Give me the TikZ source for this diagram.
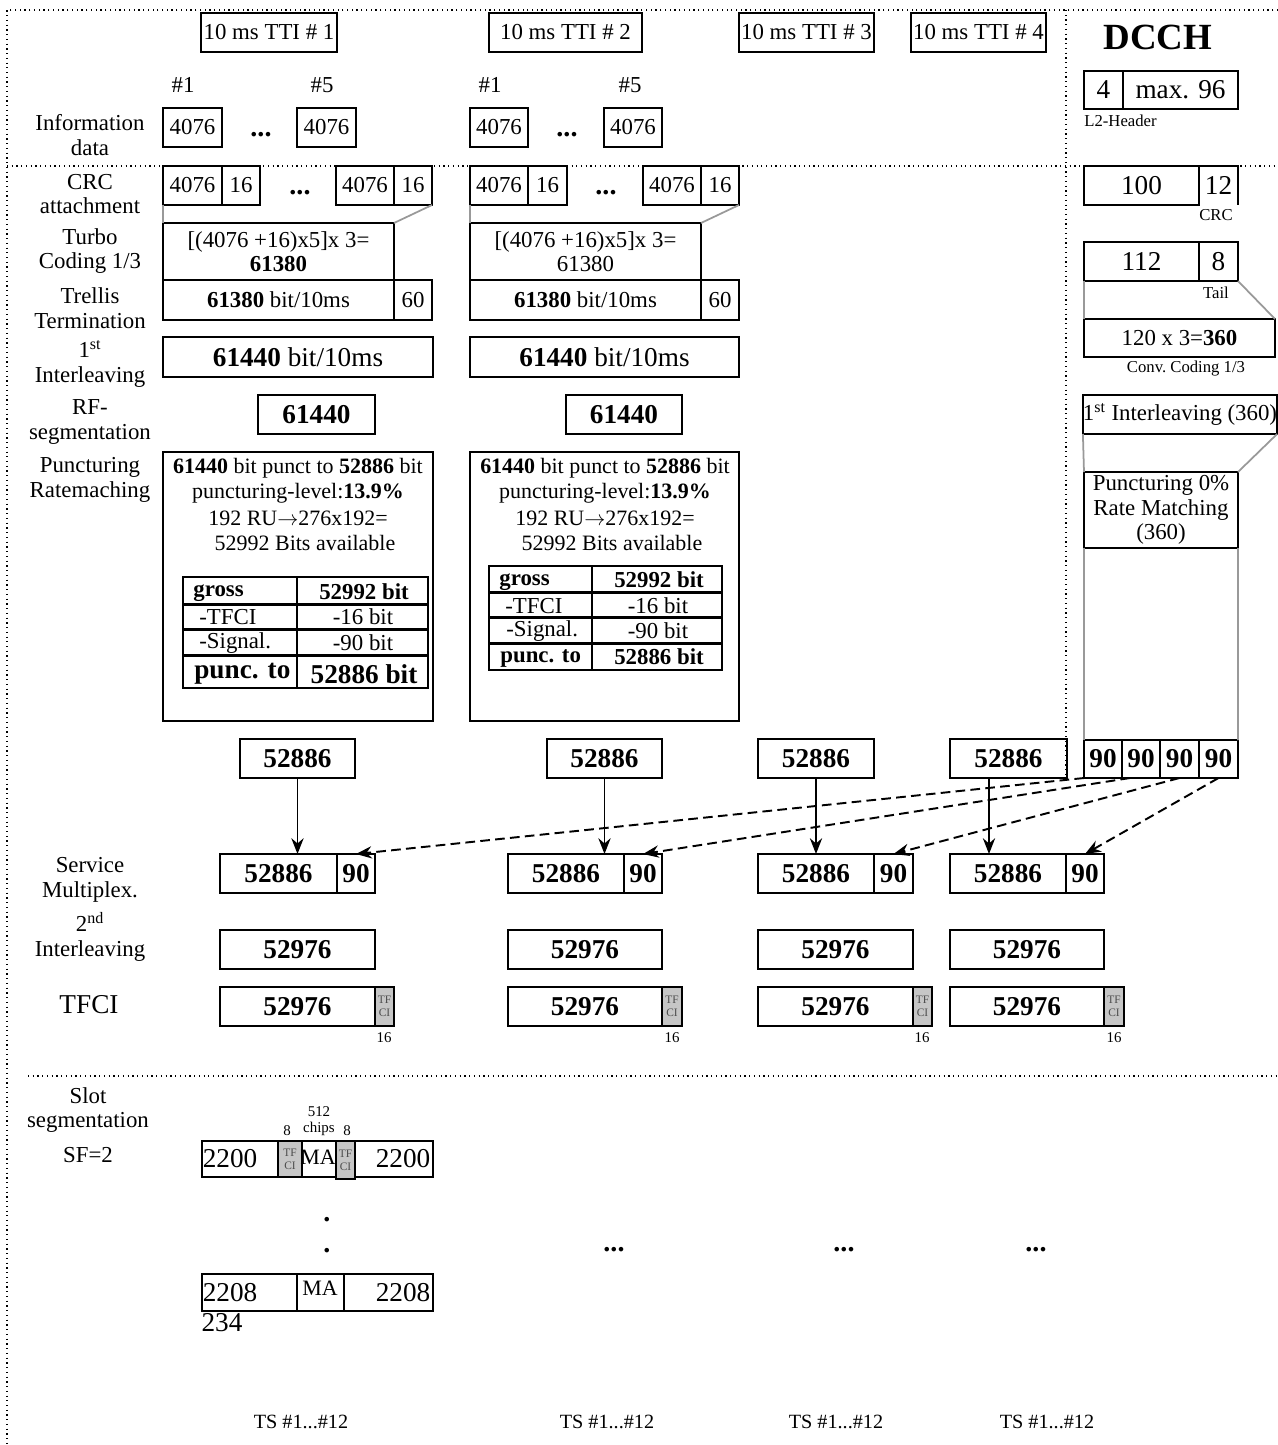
\documentclass[tikz,border=0pt]{standalone}
\usepackage{fontspec}
\setmainfont{Liberation Serif}
\usetikzlibrary{arrows.meta}
\newcommand\bx[7]{\node[#6, minimum width={(#4-#2)*0.02cm}, minimum height={(#5-#3)*0.02cm}] (#1) at ({(#2+#4)/2},{(#3+#5)/2}) {#7};}
\begin{document}
\begin{tikzpicture}[x=0.02cm,y=-0.02cm,
  bx/.style={draw, line width=1.05pt, inner sep=0pt, outer sep=0pt, align=center},
  nobx/.style={inner sep=0pt, outer sep=0pt, align=center},
  tbx/.style={draw, line width=1.6pt, inner sep=0pt, outer sep=0pt, align=center},
  tline/.style={line width=1.7pt},
  vline/.style={line width=1.1pt},
  bline/.style={line width=1.05pt},
  gry/.style={draw=gray!80, line width=1pt},
  gcell/.style={draw, fill=gray!45, line width=1pt, inner sep=0pt, outer sep=0pt, align=center,
     font=\fontsize{6.5}{7.5}\selectfont, text=black!70},
  f13/.style={font=\fontsize{13}{14}\selectfont},
  f125/.style={font=\fontsize{12.5}{14}\selectfont},
  f15/.style={font=\fontsize{15.5}{17}\selectfont},
  fb/.style={font=\fontsize{15.5}{17}\selectfont\bfseries},
  fs/.style={font=\fontsize{9.5}{10.5}\selectfont},
  fxs/.style={font=\fontsize{8.5}{9.5}\selectfont},
  lab/.style={inner sep=0pt, align=center, f13},
  dots/.style={inner sep=0pt, font=\fontsize{16}{17}\selectfont\bfseries},
  sarr/.style={line width=1pt, -{Stealth[length=9pt,width=7pt,inset=3pt]}},
  darr/.style={line width=1.1pt, dash pattern=on 5.5pt off 3pt, -{Stealth[length=9pt,width=7pt,inset=3pt]}}
]
\useasboundingbox (0,0) rectangle (1278,1445);
% frame
\draw[dotted, line width=0.7pt] (1278,10) -- (7,10) -- (7,1445);
\draw[dotted, line width=0.7pt] (7,166) -- (1278,166);
\draw[dotted, line width=0.7pt] (1066,10) -- (1066,775);
\draw[dotted, line width=0.7pt] (28,1076) -- (1278,1076);

% left labels
\node[lab] (lInfo) at (90,135) {Information\\data};
\node[lab] (lCRC) at (90,194) {CRC\\attachment};
\node[lab] (lTurbo) at (90,251) {Turbo\\Coding 1/3};
\node[lab] (lTrel) at (90,308) {Trellis\\Termination};
\node[lab] (lIl) at (90,364) {1\textsuperscript{st}\\Interleaving};
\node[lab] (lRF) at (90,422) {RF-\\segmentation};
\node[lab] (lPunc) at (90,480) {Puncturing\\Ratemaching};
\node[lab] (lSM) at (90,880) {Service\\Multiplex.};
\node[lab] (lIl2) at (90,937) {2\textsuperscript{nd}\\Interleaving};
\node[lab,f15] (lTFCI) at (89,1005) {TFCI};
\node[lab] (lSlot) at (88,1110) {Slot\\segmentation};
\node[lab] (lSF) at (88,1155) {SF=2};

% TTI boxes
\bx{tti1}{201}{13}{337}{52}{bx,f13}{10 ms TTI \# 1}
\bx{tti2}{489}{13}{642}{52}{bx,f13}{10 ms TTI \# 2}
\bx{tti3}{739}{13}{874}{52}{bx,f13}{10 ms TTI \# 3}
\bx{tti4}{911}{13}{1046}{52}{bx,f13}{10 ms TTI \# 4}

% ---------- column 1 ----------
\node[lab] (h11) at (183,85) {\#1};
\node[lab] (h15) at (322,85) {\#5};
\bx{i1a}{163}{108}{222}{147}{bx,f13}{4076}
\node[dots] (i1d) at (261,135) {...};
\bx{i1b}{297}{108}{356}{147}{bx,f13}{4076}

\bx{c1a}{163}{166}{222}{205}{bx,f13}{4076}
\bx{c1b}{222}{166}{260}{205}{bx,f13}{16}
\node[dots] (c1dots) at (300,193) {...};
\bx{c1c}{336}{166}{394}{205}{bx,f13}{4076}
\bx{c1d}{394}{166}{432}{205}{bx,f13}{16}

\bx{tb1}{163}{223}{394}{280}{bx,f13}{[(4076 +16)x5]x 3=\\\textbf{61380}}
\draw[gry] (c1a.south west) -- (tb1.north west);
\draw[gry] (c1d.south east) -- (tb1.north east);
\bx{tr1}{163}{280}{394}{320}{bx,f13}{\textbf{61380} bit/10ms}
\bx{tr1b}{394}{280}{432}{320}{bx,f13}{60}
\bx{il1}{163}{337}{433}{377}{bx,f15}{\textbf{61440} bit/10ms}
\bx{rf1}{258}{395}{375}{434}{tbx,fb}{61440}
\bx{pu1}{163}{452}{433}{721}{bx}{}
\node[lab,f125] (p1l1) at (298,468) {\textbf{61440} bit punct to \textbf{52886} bit};
\node[lab,f125] (p1l2) at (298,493) {puncturing-level:\textbf{13.9\%}};
\node[lab,f125] (p1l3) at (298,518) {192 RU$\rightarrow$276x192=};
\node[lab,f125] (p1l4) at (305,543) {52992 Bits available};
% table 1
\bx{tab1}{183}{577}{428}{688}{tbx}{}
\draw[vline] (297,577) -- (297,688);
\draw[tline] (183,604) -- (428,604);
\draw[tline] (183,629) -- (428,629);
\draw[tline] (183,655) -- (428,655);
\node[lab,anchor=west] (t1a) at (193,593) {\textbf{gross}};
\node[lab] (t1b) at (364,592) {\textbf{52992 bit}};
\node[lab,anchor=west] (t1c) at (199,617) {-TFCI};
\node[lab] (t1d) at (363,617) {-16 bit};
\node[lab,anchor=west] (t1e) at (199,643) {-Signal.};
\node[lab] (t1f) at (363,643) {-90 bit};
\node[lab,fb,anchor=west] (t1g) at (194,674) {punc. to};
\node[lab,fb] (t1h) at (364,674) {52886 bit};

% ---------- column 2 ----------
\node[lab] (h21) at (490,85) {\#1};
\node[lab] (h25) at (630,85) {\#5};
\bx{i2a}{470}{108}{528}{147}{bx,f13}{4076}
\node[dots] (i2d) at (567,135) {...};
\bx{i2b}{604}{108}{662}{147}{bx,f13}{4076}

\bx{c2a}{470}{166}{528}{205}{bx,f13}{4076}
\bx{c2b}{528}{166}{567}{205}{bx,f13}{16}
\node[dots] (c2dots) at (606,193) {...};
\bx{c2c}{643}{166}{701}{205}{bx,f13}{4076}
\bx{c2d}{701}{166}{739}{205}{bx,f13}{16}

\bx{tb2}{470}{223}{701}{280}{bx,f13}{[(4076 +16)x5]x 3=\\61380}
\draw[gry] (c2a.south west) -- (tb2.north west);
\draw[gry] (c2d.south east) -- (tb2.north east);
\bx{tr2}{470}{280}{701}{320}{bx,f13}{\textbf{61380} bit/10ms}
\bx{tr2b}{701}{280}{739}{320}{bx,f13}{60}
\bx{il2}{470}{337}{739}{377}{bx,f15}{\textbf{61440} bit/10ms}
\bx{rf2}{566}{395}{682}{434}{tbx,fb}{61440}
\bx{pu2}{470}{452}{739}{721}{bx}{}
\node[lab,f125] (p2l1) at (605,468) {\textbf{61440} bit punct to \textbf{52886} bit};
\node[lab,f125] (p2l2) at (605,493) {puncturing-level:\textbf{13.9\%}};
\node[lab,f125] (p2l3) at (605,518) {192 RU$\rightarrow$276x192=};
\node[lab,f125] (p2l4) at (612,543) {52992 Bits available};
% table 2
\bx{tab2}{489}{566}{722}{670}{tbx}{}
\draw[vline] (592,566) -- (592,670);
\draw[tline] (489,592) -- (722,592);
\draw[tline] (489,617) -- (722,617);
\draw[tline] (489,643) -- (722,643);
\node[lab,anchor=west] (t2a) at (499,582) {\textbf{gross}};
\node[lab] (t2b) at (659,580) {\textbf{52992 bit}};
\node[lab,anchor=west] (t2c) at (505,606) {-TFCI};
\node[lab] (t2d) at (658,606) {-16 bit};
\node[lab,anchor=west] (t2e) at (506,631) {-Signal.};
\node[lab] (t2f) at (658,631) {-90 bit};
\node[lab,anchor=west] (t2g) at (500,658) {\textbf{punc. to}};
\node[lab] (t2h) at (659,657) {\textbf{52886 bit}};

% ---------- DCCH ----------
\node[inner sep=0pt, font=\fontsize{21}{22}\selectfont\bfseries] (dcch) at (1158,37) {DCCH};
\bx{d1}{1084}{71}{1123}{109}{bx,f15}{4}
\bx{d2}{1123}{71}{1238}{109}{bx,f15}{max. 96}
\node[fs,inner sep=0pt,anchor=west] (l2h) at (1084,121) {L2-Header};
\bx{d3}{1084}{166}{1199}{205}{bx,f15}{100}
\bx{d4}{1199}{166}{1238}{205}{nobx,f15}{12}
\draw[bline] (d4.north west) -- (d4.north east) -- (d4.south east);
\node[fs,inner sep=0pt] (crcl) at (1216,215) {CRC};
\bx{d5}{1084}{242}{1199}{281}{bx,f15}{112}
\bx{d6}{1199}{242}{1238}{281}{bx,f15}{8}
\node[fs,inner sep=0pt] (taill) at (1216,293) {Tail};
\bx{d7}{1084}{319}{1275}{357}{bx,f13}{120 x 3=\textbf{360}}
\draw[gry] (d5.south west) -- (d7.north west);
\draw[gry] (d6.south east) -- (d7.north east);
\node[fs,inner sep=0pt] (convl) at (1186,368) {Conv.\ Coding 1/3};
\bx{d8}{1084}{395}{1276}{434}{bx,f13}{1\textsuperscript{st} Interleaving (360)}
\bx{d9}{1084}{472}{1238}{548}{bx,f13}{Puncturing 0\%\\Rate Matching\\(360)}
\draw[gry] (d8.south west) -- (d9.north west);
\draw[gry] (d8.south east) -- (d9.north east);
\bx{n1}{1084}{740}{1122}{778}{bx,fb}{90}
\bx{n2}{1122}{740}{1160}{778}{bx,fb}{90}
\bx{n3}{1160}{740}{1199}{778}{bx,fb}{90}
\bx{n4}{1199}{740}{1238}{778}{bx,fb}{90}
\draw[gry] (d9.south west) -- (n1.north west);
\draw[gry] (d9.south east) -- (n4.north east);

% ---------- 52886 rows ----------
\bx{t1}{240}{739}{355}{778}{bx,fb}{52886}
\bx{t2}{547}{739}{662}{778}{bx,fb}{52886}
\bx{t3}{758}{739}{874}{778}{bx,fb}{52886}
\bx{t4}{950}{739}{1067}{778}{bx,fb}{52886}

\bx{m1a}{220}{854}{337}{893}{bx,fb}{52886}
\bx{m1b}{337}{854}{375}{893}{bx,fb}{90}
\bx{m2a}{508}{854}{624}{893}{bx,fb}{52886}
\bx{m2b}{624}{854}{662}{893}{bx,fb}{90}
\bx{m3a}{758}{854}{874}{893}{bx,fb}{52886}
\bx{m3b}{874}{854}{913}{893}{bx,fb}{90}
\bx{m4a}{950}{854}{1066}{893}{bx,fb}{52886}
\bx{m4b}{1066}{854}{1104}{893}{bx,fb}{90}

\draw[sarr] (t1.south) -- (t1.south |- m1a.north);
\draw[sarr] (t2.south) -- (t2.south |- m2a.north);
\draw[sarr] (t3.south) -- (t3.south |- m3a.north);
\coordinate (a4) at (989,778);
\draw[sarr] (a4) -- (a4 |- m4a.north);

\draw[darr] (n1.south west) -- (m1b.north);
\draw[darr] ([xshift=0.16cm]n2.south west) -- (m2b.north);
\draw[darr] (n3.south) -- (m3b.north);
\draw[darr] (n4.south) -- (m4b.north);

% 2nd interleaving
\bx{s1}{220}{930}{375}{969}{bx,fb}{52976}
\bx{s2}{508}{930}{662}{969}{bx,fb}{52976}
\bx{s3}{758}{930}{913}{969}{bx,fb}{52976}
\bx{s4}{950}{930}{1104}{969}{bx,fb}{52976}

% TFCI
\bx{f1}{220}{987}{375}{1026}{bx,fb}{52976}
\bx{g1}{375}{987}{394}{1026}{gcell}{TF\\CI}
\node[fxs,inner sep=0pt] (k1) at (384,1038) {16};
\bx{f2}{508}{987}{662}{1026}{bx,fb}{52976}
\bx{g2}{662}{987}{682}{1026}{gcell}{TF\\CI}
\node[fxs,inner sep=0pt] (k2) at (672,1038) {16};
\bx{f3}{758}{987}{913}{1026}{bx,fb}{52976}
\bx{g3}{913}{987}{932}{1026}{gcell}{TF\\CI}
\node[fxs,inner sep=0pt] (k3) at (922,1038) {16};
\bx{f4}{950}{987}{1104}{1026}{bx,fb}{52976}
\bx{g4}{1104}{987}{1124}{1026}{gcell}{TF\\CI}
\node[fxs,inner sep=0pt] (k4) at (1114,1038) {16};

% slot segmentation
\bx{sl1}{202}{1141}{433}{1177}{bx}{}
\bx{sg1}{278}{1141}{302}{1177}{gcell}{TF\\CI}
\bx{sg2}{336}{1141}{355}{1179}{gcell}{TF\\CI}
\node[inner sep=0pt,f15] (sl1a) at (230,1159) {2200};
\node[inner sep=0pt,f125] (sl1m) at (318,1157) {MA};
\node[inner sep=0pt,f15] (sl1b) at (403,1159) {2200};
\node[fxs,inner sep=0pt] (e8a) at (287,1131) {8};
\node[fxs,inner sep=0pt,align=center] (e512) at (319,1121) {512\\chips};
\node[fxs,inner sep=0pt] (e8b) at (347,1131) {8};
\node[dots] (vd1) at (327,1220) {.};
\node[dots] (vd2) at (327,1251) {.};
\bx{sb1}{202}{1274}{297}{1311}{bx}{}
\bx{sb2}{297}{1274}{344}{1311}{bx}{}
\bx{sb3}{344}{1274}{433}{1311}{bx}{}
\node[inner sep=0pt,f15] (sb1t) at (230,1293) {2208};
\node[inner sep=0pt,f125] (sb2t) at (320,1288) {MA};
\node[inner sep=0pt,f15] (sb3t) at (403,1293) {2208};
\node[inner sep=0pt,f15] (n234) at (222,1323) {234};
\node[dots] (hd2) at (614,1250) {...};
\node[dots] (hd3) at (844,1250) {...};
\node[dots] (hd4) at (1036,1250) {...};

% TS labels
\node[inner sep=0pt,font=\fontsize{11.5}{12}\selectfont] (ts1) at (301,1422) {TS \#1...\#12};
\node[inner sep=0pt,font=\fontsize{11.5}{12}\selectfont] (ts2) at (607,1422) {TS \#1...\#12};
\node[inner sep=0pt,font=\fontsize{11.5}{12}\selectfont] (ts3) at (836,1422) {TS \#1...\#12};
\node[inner sep=0pt,font=\fontsize{11.5}{12}\selectfont] (ts4) at (1047,1422) {TS \#1...\#12};
\end{tikzpicture}
\end{document}
